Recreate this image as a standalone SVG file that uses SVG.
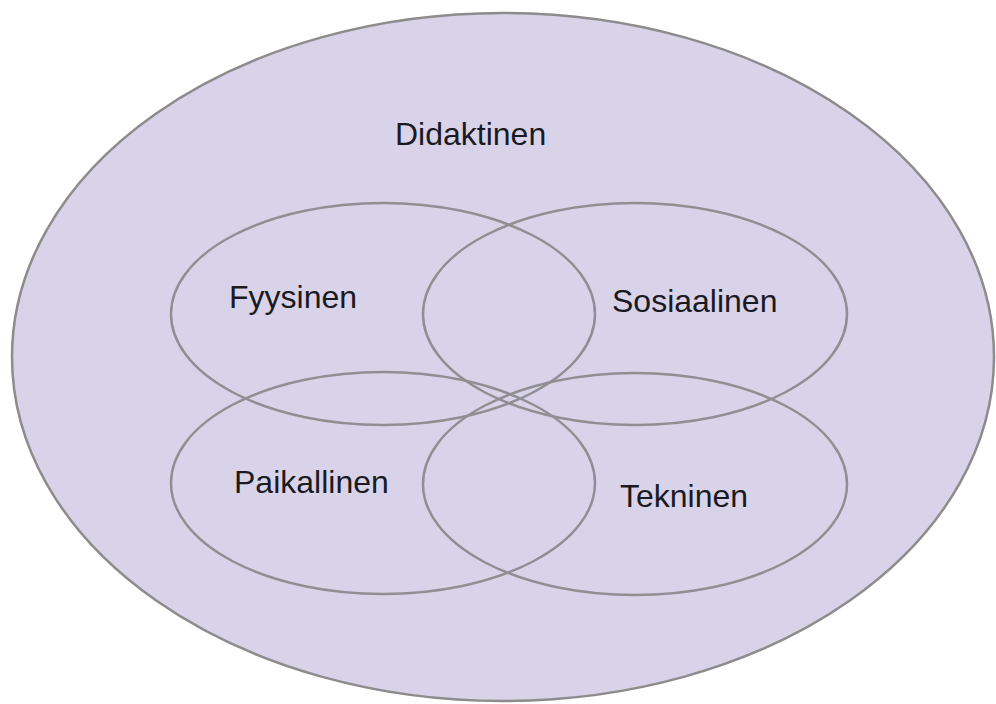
<svg xmlns="http://www.w3.org/2000/svg" width="996" height="704" viewBox="0 0 996 704">
<style>
.outer{fill:#d9d3e9;stroke:#8c8c8c;stroke-width:2.5}
.ring{fill:none;stroke:#8f8f93;stroke-width:2.5}
.lbl{font-family:"Liberation Sans",Arial,sans-serif;font-size:32px;fill:#1a1a22}
</style>
<rect width="996" height="704" fill="#ffffff"/>
<g id="didaktinen">
<ellipse class="outer" cx="503" cy="357" rx="491" ry="344"/>
<text class="lbl" x="395" y="145" font-size="32.5">Didaktinen</text>
</g>
<g id="fyysinen">
<ellipse class="ring" cx="383" cy="314" rx="212" ry="111"/>
<text class="lbl" x="229" y="308">Fyysinen</text>
</g>
<g id="sosiaalinen">
<ellipse class="ring" cx="635" cy="314" rx="212" ry="111"/>
<text class="lbl" x="612" y="312">Sosiaalinen</text>
</g>
<g id="paikallinen">
<ellipse class="ring" cx="383" cy="483" rx="212" ry="111"/>
<text class="lbl" x="234" y="493">Paikallinen</text>
</g>
<g id="tekninen">
<ellipse class="ring" cx="635" cy="484" rx="212" ry="111"/>
<text class="lbl" x="620" y="507">Tekninen</text>
</g>
<g id="connectors"></g>
</svg>
